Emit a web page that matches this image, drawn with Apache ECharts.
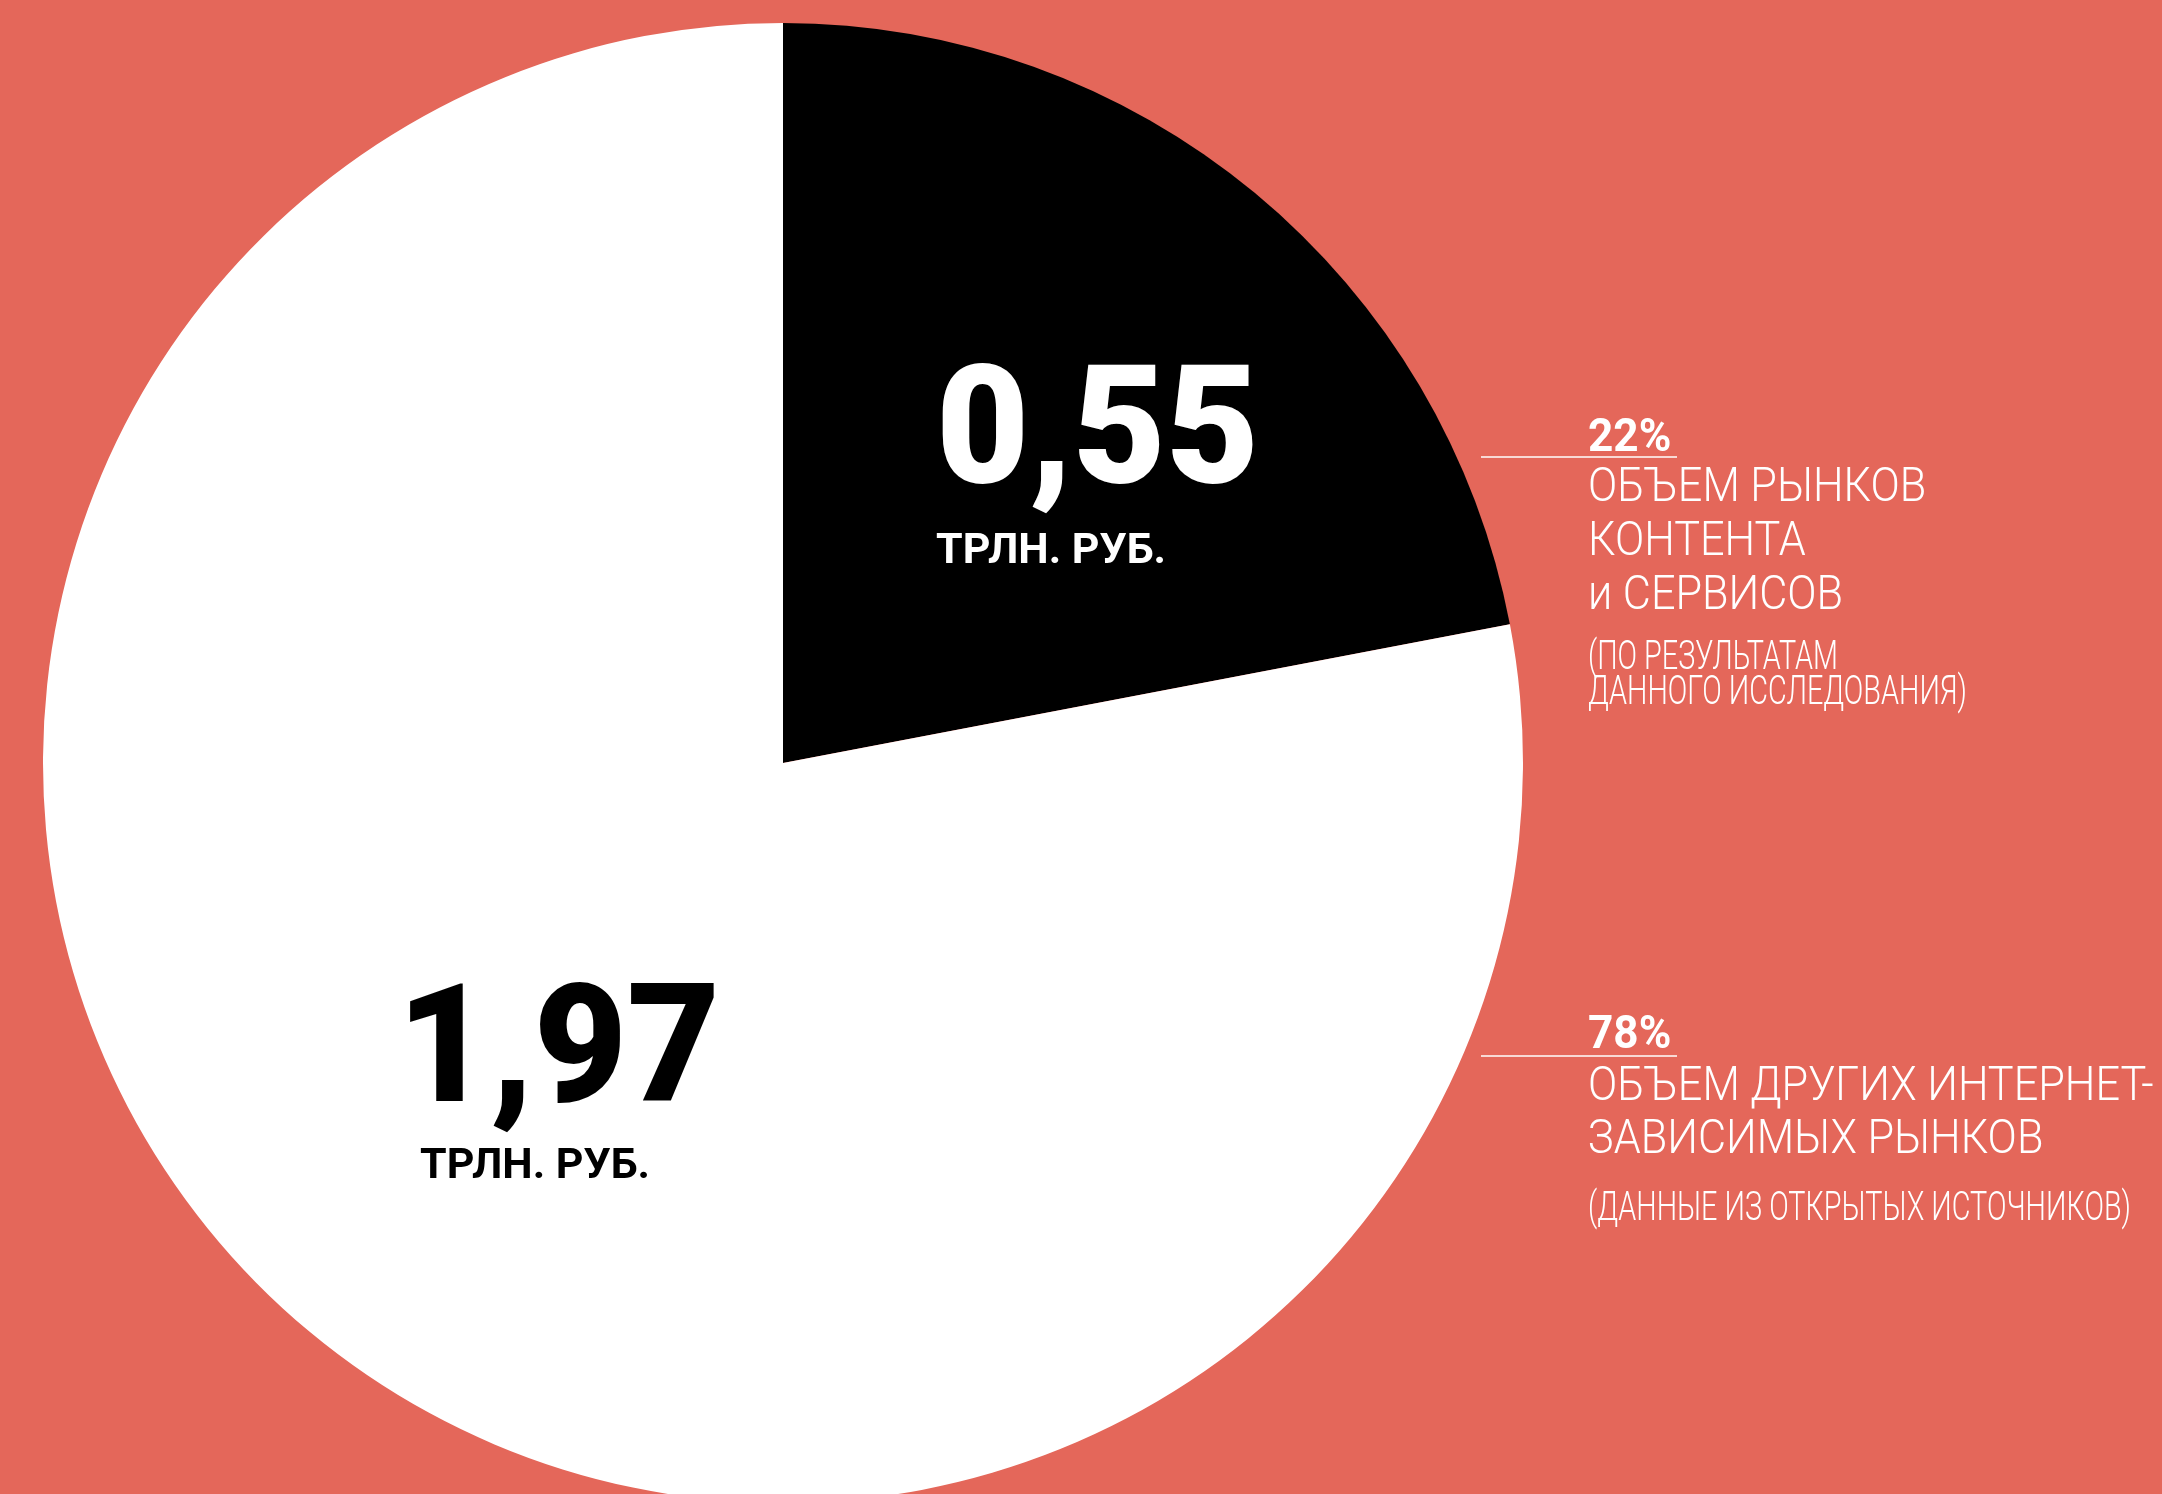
<!DOCTYPE html>
<html>
<head>
<meta charset="utf-8">
<script src="https://cdn.jsdelivr.net/npm/echarts@6/dist/echarts.min.js"></script>
<style>
html,body{margin:0;padding:0;background:#E4675A;}
#chart{width:2162px;height:1494px;}
</style>
</head>
<body>
<div id="chart"></div>
<script>
// ---- data ----
const categories = ['ОБЪЕМ РЫНКОВ КОНТЕНТА и СЕРВИСОВ', 'ОБЪЕМ ДРУГИХ ИНТЕРНЕТ-ЗАВИСИМЫХ РЫНКОВ'];
const shares = [22, 78];                 // percent
const volumes = ['0,55', '1,97'];        // трлн. руб.
const unitLabel = 'ТРЛН. РУБ.';
const titleLines = [['ОБЪЕМ РЫНКОВ', 'КОНТЕНТА', 'и СЕРВИСОВ'], ['ОБЪЕМ ДРУГИХ ИНТЕРНЕТ-', 'ЗАВИСИМЫХ РЫНКОВ']];
const noteLines = [['(ПО РЕЗУЛЬТАТАМ', 'ДАННОГО ИССЛЕДОВАНИЯ)'], ['(ДАННЫЕ ИЗ ОТКРЫТЫХ ИСТОЧНИКОВ)']];

// ---- styles ----
const BG = '#E4675A';
const sliceColors = ['#000000', '#FFFFFF'];
const numColors = ['#FFFFFF', '#000000'];
const FONT = 'Roboto, "Noto Sans", sans-serif';

function txt(text, x, y, size, weight, fill, sx) {
  return {
    type: 'text', x: x, y: y, z: 100, silent: true,
    scaleX: sx || 1, scaleY: 1,
    style: {
      text: text, fill: fill,
      font: weight + ' ' + size + 'px ' + FONT,
      textAlign: 'left', textVerticalAlign: 'middle'
    }
  };
}

const graphics = [];
// big numbers inside slices
const numPos = [[936, 440, 936, 552], [397, 1059, 420, 1167]];
for (let i = 0; i < volumes.length; i++) {
  const p = numPos[i];
  graphics.push(txt(volumes[i], p[0], p[1], 166, 900, numColors[i], 0.97));
  graphics.push(txt(unitLabel, p[2], p[3], 43, 700, numColors[i], 1.0));
}
// right side annotations
const annY = [[439, 457, [489, 543, 597], [659, 694]], [1036, 1056, [1088, 1141], [1210]]];
for (let i = 0; i < shares.length; i++) {
  const a = annY[i];
  graphics.push(txt(shares[i] + '%', 1588, a[0], 46, 700, '#FFFFFF', 0.96));
  graphics.push({
    type: 'line', z: 100, silent: true,
    shape: {x1: 1481, y1: a[1], x2: 1677, y2: a[1]},
    style: {stroke: '#FFFFFF', lineWidth: 1.5}
  });
  titleLines[i].forEach((t, k) => graphics.push(txt(t, 1588, a[2][k], 48, 300, '#FFFFFF', 0.9)));
  noteLines[i].forEach((t, k) => graphics.push(txt(t, 1588, a[3][k], 40, 300, '#FFFFFF', 0.72)));
}

const chart = echarts.init(document.getElementById('chart'), null, {renderer: 'canvas'});
chart.setOption({
  backgroundColor: BG,
  animation: false,
  series: [{
    type: 'pie',
    center: [783, 763],
    radius: [0, 740],
    startAngle: 90,
    clockwise: true,
    silent: true,
    z: 2,
    label: {show: false},
    labelLine: {show: false},
    data: categories.map((c, i) => ({name: c, value: shares[i], itemStyle: {color: sliceColors[i]}}))
  }],
  graphic: graphics
});
</script>
</body>
</html>
